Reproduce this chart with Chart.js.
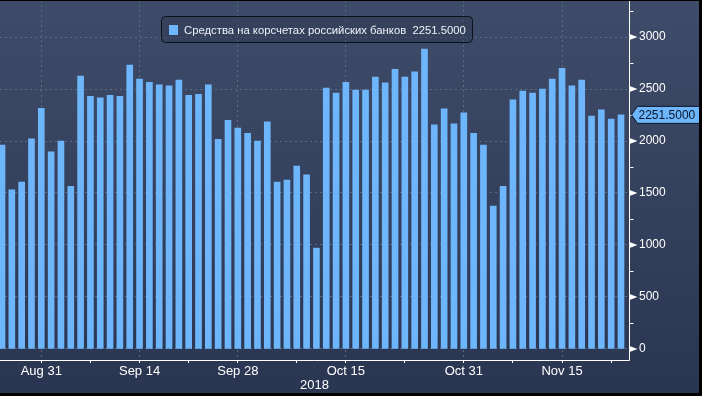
<!DOCTYPE html>
<html>
<head>
<meta charset="utf-8">
<script src="https://cdn.jsdelivr.net/npm/chart.js@4.4.0/dist/chart.umd.min.js"></script>
<style>
html,body{margin:0;padding:0;background:#2b3853;}
#wrap{width:702px;height:396px;position:relative;}
canvas{display:block;}
</style>
</head>
<body>
<div id="wrap"><canvas id="c" width="702" height="396"></canvas></div>
<script>
const seriesName = 'Средства на корсчетах российских банков';
const yearLabel = '2018';
const dates = [
  'Aug 27','Aug 28','Aug 29','Aug 30','Aug 31',
  'Sep 3','Sep 4','Sep 5','Sep 6','Sep 7',
  'Sep 10','Sep 11','Sep 12','Sep 13','Sep 14',
  'Sep 17','Sep 18','Sep 19','Sep 20','Sep 21',
  'Sep 24','Sep 25','Sep 26','Sep 27','Sep 28',
  'Oct 1','Oct 2','Oct 3','Oct 4','Oct 5',
  'Oct 8','Oct 9','Oct 10','Oct 11','Oct 12',
  'Oct 15','Oct 16','Oct 17','Oct 18','Oct 19',
  'Oct 22','Oct 23','Oct 24','Oct 25','Oct 26',
  'Oct 29','Oct 30','Oct 31','Nov 1','Nov 2',
  'Nov 6','Nov 7','Nov 8','Nov 9',
  'Nov 12','Nov 13','Nov 14','Nov 15','Nov 16',
  'Nov 19','Nov 20','Nov 21','Nov 22','Nov 23'
];
const values = [
  1960,1530,1605,2020,2315,
  1895,2000,1565,2625,2430,
  2415,2440,2430,2730,2595,
  2565,2540,2530,2585,2440,
  2450,2540,2015,2200,2125,
  2075,2000,2185,1605,1625,
  1760,1675,970,2510,2460,
  2565,2490,2490,2615,2560,
  2690,2615,2665,2885,2155,
  2310,2165,2270,2075,1960,
  1375,1565,2395,2480,
  2460,2500,2595,2700,2530,
  2585,2240,2300,2210,2251.5
];
const xTickLabels = ['Aug 31','Sep 14','Sep 28','Oct 15','Oct 31','Nov 15'];
const xMinorTicks = ['Sep 7','Sep 21','Oct 8','Oct 23','Nov 8','Nov 22'];
const yTickLabels = [0,500,1000,1500,2000,2500,3000];
const yMinorTicks = [250,750,1250,1750,2250,2750,3250];

const FONT = "'Liberation Sans', Arial, sans-serif";
const BAR = '#6eb6fb';
const GRID = '#5a6984';

const majorIdx = xTickLabels.map(d => dates.indexOf(d));
const minorIdx = xMinorTicks.map(d => dates.indexOf(d));
const lastValue = values[values.length - 1];

const decor = {
  id: 'decor',
  beforeDraw(chart) {
    const ctx = chart.ctx;
    const g = ctx.createLinearGradient(0, 0, 0, chart.height);
    g.addColorStop(0, '#3f4c69');
    g.addColorStop(1, '#2a3651');
    ctx.save();
    ctx.fillStyle = g;
    ctx.fillRect(0, 0, chart.width, chart.height);
    ctx.restore();
  },
  afterDraw(chart) {
    const ctx = chart.ctx;
    const a = chart.chartArea;
    const ys = chart.scales.y;
    ctx.save();
    ctx.strokeStyle = '#ffffff';
    ctx.lineWidth = 1;
    ctx.beginPath();
    ctx.moveTo(Math.round(a.right) + 0.5, 0);
    ctx.lineTo(Math.round(a.right) + 0.5, Math.round(a.bottom) + 0.5);
    ctx.moveTo(0, Math.round(a.bottom) + 0.5);
    ctx.lineTo(Math.round(a.right) + 0.5, Math.round(a.bottom) + 0.5);
    ctx.stroke();
    const ax = Math.round(a.right) + 0.5;
    ctx.fillStyle = '#ffffff';
    yTickLabels.forEach(v => {
      const y = ys.getPixelForValue(v);
      ctx.beginPath();
      ctx.moveTo(ax, y - 3);
      ctx.lineTo(ax + 8, y);
      ctx.lineTo(ax, y + 3);
      ctx.closePath();
      ctx.fill();
    });
    ctx.beginPath();
    yMinorTicks.forEach(v => {
      const y = Math.round(ys.getPixelForValue(v)) + 0.5;
      ctx.moveTo(ax, y);
      ctx.lineTo(ax + 4, y);
    });
    ctx.stroke();

    const yc = ys.getPixelForValue(lastValue);
    const x0 = ax + 2;
    ctx.beginPath();
    ctx.moveTo(x0, yc);
    ctx.lineTo(x0 + 6, yc - 8.5);
    ctx.lineTo(chart.width, yc - 8.5);
    ctx.lineTo(chart.width, yc + 8.5);
    ctx.lineTo(x0 + 6, yc + 8.5);
    ctx.closePath();
    ctx.fillStyle = BAR;
    ctx.fill();
    ctx.strokeStyle = '#0b1424';
    ctx.stroke();
    ctx.fillStyle = '#08152b';
    ctx.font = '12px ' + FONT;
    ctx.textBaseline = 'middle';
    ctx.textAlign = 'left';
    ctx.fillText(lastValue.toFixed(4), ax + 9, yc + 0.5);

    const lx = 161.5, ly = 16.5, lw = 311, lh = 26, r = 4;
    ctx.beginPath();
    ctx.moveTo(lx + r, ly);
    ctx.lineTo(lx + lw - r, ly);
    ctx.quadraticCurveTo(lx + lw, ly, lx + lw, ly + r);
    ctx.lineTo(lx + lw, ly + lh - r);
    ctx.quadraticCurveTo(lx + lw, ly + lh, lx + lw - r, ly + lh);
    ctx.lineTo(lx + r, ly + lh);
    ctx.quadraticCurveTo(lx, ly + lh, lx, ly + lh - r);
    ctx.lineTo(lx, ly + r);
    ctx.quadraticCurveTo(lx, ly, lx + r, ly);
    ctx.closePath();
    ctx.fillStyle = 'rgba(40,50,72,0.35)';
    ctx.fill();
    ctx.strokeStyle = '#0c111c';
    ctx.stroke();
    ctx.fillStyle = BAR;
    ctx.fillRect(169, 25, 9, 10);
    ctx.fillStyle = '#eef2f8';
    ctx.font = '11.3px ' + FONT;
    ctx.textBaseline = 'middle';
    ctx.fillText(chart.data.datasets[0].label + '  ' + lastValue.toFixed(4), 184, 30.5);

    ctx.fillStyle = '#000000';
    ctx.fillRect(0, 0, chart.width, 1);
    ctx.fillRect(chart.width - 3, 0, 3, chart.height);
    ctx.fillRect(0, chart.height - 3, chart.width, 3);
    ctx.restore();
  }
};

new Chart(document.getElementById('c'), {
  type: 'bar',
  data: {
    datasets: [{
      label: seriesName,
      data: values.map((v, i) => ({ x: i, y: v })),
      backgroundColor: BAR,
      borderWidth: 0,
      barThickness: 6
    }]
  },
  options: {
    responsive: false,
    animation: false,
    devicePixelRatio: 1,
    layout: { padding: 0 },
    plugins: { legend: { display: false }, tooltip: { enabled: false } },
    scales: {
      x: {
        type: 'linear',
        offset: false,
        min: -0.2036,
        max: 63.814,
        afterBuildTicks: s => {
          s.ticks = majorIdx.concat(minorIdx).sort((a, b) => a - b).map(v => ({ value: v }));
        },
        afterFit: s => { s.height = 36; s.paddingLeft = 0; s.paddingRight = 0; },
        ticks: {
          autoSkip: false,
          maxRotation: 0,
          color: '#ffffff',
          padding: 1,
          font: { family: FONT, size: 13 },
          callback: v => {
            const k = majorIdx.indexOf(v);
            return k >= 0 ? xTickLabels[k] : '';
          }
        },
        grid: {
          offset: false,
          color: c => (c.tick && majorIdx.indexOf(c.tick.value) >= 0) ? GRID : 'rgba(0,0,0,0)',
          drawTicks: true,
          tickLength: 3,
          tickColor: '#ffffff',
          tickWidth: 1
        },
        border: { display: false, dash: [2, 3] },
        title: {
          display: true,
          text: yearLabel,
          color: '#ffffff',
          font: { family: FONT, size: 13 },
          padding: { top: 0, bottom: 3 }
        }
      },
      y: {
        position: 'right',
        min: -106,
        max: 3356,
        afterBuildTicks: s => {
          s.ticks = yTickLabels.concat(yMinorTicks).sort((a, b) => a - b).map(v => ({ value: v }));
        },
        afterFit: s => { s.width = 73; s.paddingTop = 0; s.paddingBottom = 0; },
        ticks: {
          color: '#ffffff',
          padding: 10,
          font: { family: FONT, size: 12 },
          callback: v => (yTickLabels.indexOf(v) >= 0 ? String(v) : '')
        },
        grid: {
          color: c => (c.tick && yTickLabels.indexOf(c.tick.value) >= 0) ? GRID : 'rgba(0,0,0,0)',
          drawTicks: false
        },
        border: { display: false, dash: [2, 3] }
      }
    }
  },
  plugins: [decor]
});
</script>
</body>
</html>
